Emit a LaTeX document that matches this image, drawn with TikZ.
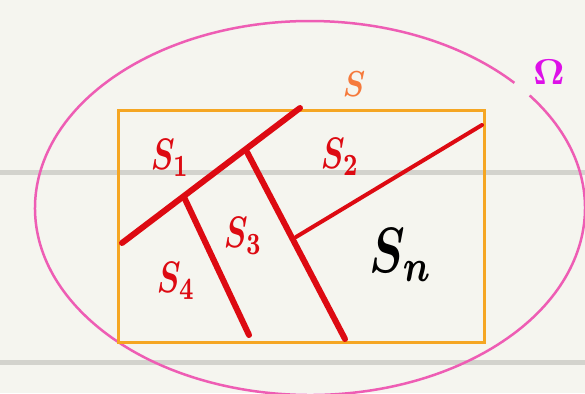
\documentclass[tikz,border=0pt]{standalone}
\usepackage{fontspec}
\begin{document}
\begin{tikzpicture}[x=1pt,y=-1pt,
  redthick/.style={draw=myred,line width=6pt,line cap=round},
  redthin/.style={draw=myred,line width=4pt,line cap=round},
  lab/.style={xscale=3.2,yscale=4.4,inner sep=0pt,font=\boldmath},
  guide/.style={draw=guidegray,line width=5pt}]
\definecolor{bg}{HTML}{F5F5EF}
\definecolor{myred}{HTML}{DD0A12}
\definecolor{myorange}{HTML}{F5A623}
\definecolor{labor}{HTML}{F57A3C}
\definecolor{mypink}{HTML}{EE5DB4}
\definecolor{mymag}{HTML}{DD10E8}
\definecolor{guidegray}{HTML}{D3D3CD}
\useasboundingbox (0,0) rectangle (585,393);
\fill[bg] (0,0) rectangle (585,393);
% guide lines
\coordinate (g1a) at (0,172); \coordinate (g1b) at (585,172);
\coordinate (g2a) at (0,362); \coordinate (g2b) at (585,362);
\draw[guide] (g1a) -- (g1b);
\draw[guide] (g2a) -- (g2b);
% ellipse Omega
\coordinate (oc) at (310,208);
\draw[mypink,line width=2.5pt] (oc) ++(-37:275 and 187) arc[start angle=-37, end angle=318, x radius=275, y radius=187];
% rectangle S
\draw[myorange,line width=3pt] (118,110) rectangle (484,342);
% red partition lines
\coordinate (a1) at (122,243); \coordinate (a2) at (300,108);
\coordinate (b1) at (247,152); \coordinate (b2) at (345,339);
\coordinate (c1) at (184,197); \coordinate (c2) at (249,335);
\coordinate (d1) at (296,237); \coordinate (d2) at (482,125);
\draw[redthick] (a1) -- (a2);
\draw[redthick] (b1) -- (b2);
\draw[redthick] (c1) -- (c2);
\draw[redthin] (d1) -- (d2);
% labels
\node[lab,text=myred] (s1) at (170,158) {$S_1$};
\node[lab,text=myred] (s2) at (340,157) {$S_2$};
\node[lab,text=myred] (s3) at (243,236) {$S_3$};
\node[lab,text=myred] (s4) at (176,281) {$S_4$};
\node[inner sep=0pt,xscale=3,yscale=3.6,text=labor,font=\boldmath] (s) at (354,84) {$S$};
\node[inner sep=0pt,xscale=4.8,yscale=6.4,text=black,font=\boldmath] (sn) at (401,255) {$S_n$};
\node[inner sep=0pt,xscale=3.8,yscale=3.6,text=mymag,font=\boldmath] (om) at (549,72) {$\Omega$};
\end{tikzpicture}
\end{document}
